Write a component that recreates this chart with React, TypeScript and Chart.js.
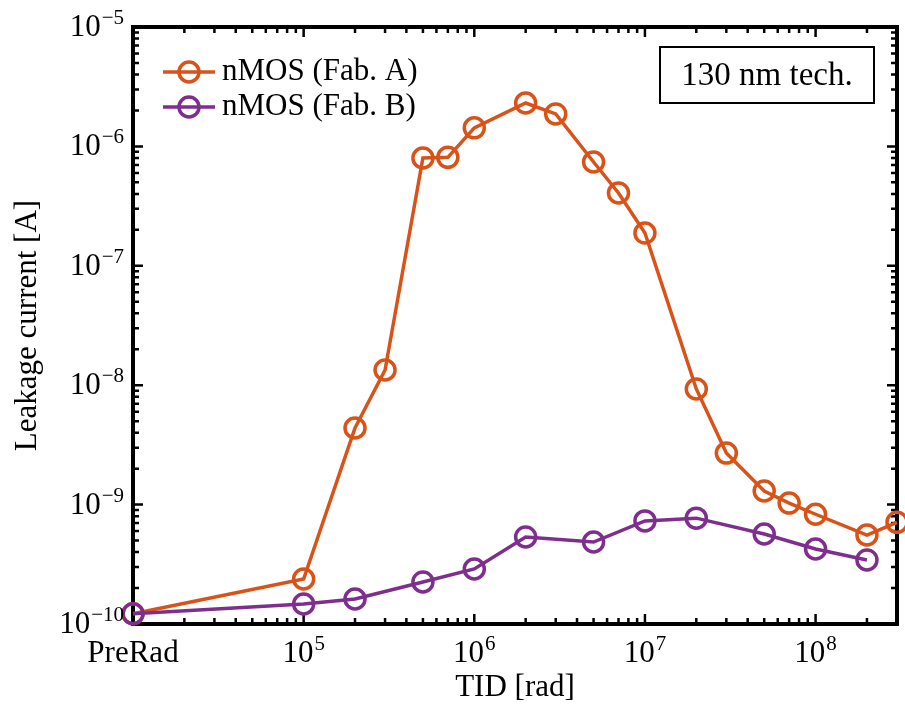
import React, { useEffect, useRef } from 'react';
import { Chart, registerables } from 'chart.js';
Chart.register(...registerables);

// ---- data ----
const doseFabA = [1e4, 1e5, 2e5, 3e5, 5e5, 7e5, 1e6, 2e6, 3e6, 5e6, 7e6, 1e7, 2e7, 3e7, 5e7, 7e7, 1e8, 2e8, 3e8];
const leakFabA = [1.22e-10, 2.38e-10, 4.38e-9, 1.34e-8, 8.0e-7, 8.1e-7, 1.43e-6, 2.31e-6, 1.87e-6, 7.4e-7, 4.07e-7, 1.88e-7, 9.3e-9, 2.7e-9, 1.3e-9, 1.03e-9, 8.3e-10, 5.56e-10, 7.1e-10];
const doseFabB = [1e4, 1e5, 2e5, 5e5, 1e6, 2e6, 5e6, 1e7, 2e7, 5e7, 1e8, 2e8];
const leakFabB = [1.22e-10, 1.47e-10, 1.62e-10, 2.25e-10, 2.89e-10, 5.36e-10, 4.86e-10, 7.3e-10, 7.7e-10, 5.67e-10, 4.25e-10, 3.44e-10];

const seriesNames = ['nMOS (Fab. A)', 'nMOS (Fab. B)'];
const seriesColors = ['#D95319', '#7E2F8E'];

const xTickValues = [1e4, 1e5, 1e6, 1e7, 1e8];
const xTickBase = ['PreRad', '10', '10', '10', '10'];
const xTickExp = ['', '5', '6', '7', '8'];
const yTickValues = [1e-10, 1e-9, 1e-8, 1e-7, 1e-6, 1e-5];
const yTickExp = ['\u221210', '\u22129', '\u22128', '\u22127', '\u22126', '\u22125'];

const xTitle = 'TID [rad]';
const yTitle = 'Leakage current [A]';
const annotationText = '130 nm tech.';

const FONT = '"Liberation Serif", "DejaVu Serif", serif';

function drawSupLabel(ctx: CanvasRenderingContext2D, base: string, exp: string, x: number, y: number, align: 'center' | 'right') {
  const baseFont = `31px ${FONT}`;
  const expFont = `21px ${FONT}`;
  ctx.font = baseFont;
  const wb = ctx.measureText(base).width;
  ctx.font = expFont;
  const we = exp ? ctx.measureText(exp).width + 1 : 0;
  const total = wb + we;
  const x0 = align === 'center' ? x - total / 2 : x - total;
  ctx.textAlign = 'left';
  ctx.textBaseline = 'alphabetic';
  ctx.font = baseFont;
  ctx.fillText(base, x0, y);
  if (exp) {
    ctx.font = expFont;
    ctx.fillText(exp, x0 + wb + 1, y - 12);
  }
}

function logTicks(min: number, max: number): { v: number; major: boolean }[] {
  const out: { v: number; major: boolean }[] = [];
  const d0 = Math.floor(Math.log10(min));
  const d1 = Math.ceil(Math.log10(max));
  for (let d = d0; d <= d1; d++) {
    for (let m = 1; m <= 9; m++) {
      const v = m * Math.pow(10, d);
      if (v >= min * 0.999 && v <= max * 1.001) out.push({ v, major: m === 1 });
    }
  }
  return out;
}

const framePlugin = {
  id: 'matlabFrame',
  beforeDatasetsDraw(chart: any) {
    const { ctx, chartArea: a, scales } = chart;
    const xs = scales.x, ys = scales.y;
    ctx.save();
    ctx.strokeStyle = '#000';
    ctx.lineWidth = 2.5;
    ctx.lineCap = 'butt';
    for (const t of logTicks(xs.min, xs.max)) {
      const px = xs.getPixelForValue(t.v);
      const len = t.major ? 10 : 6;
      ctx.beginPath();
      ctx.moveTo(px, a.bottom); ctx.lineTo(px, a.bottom - len);
      ctx.moveTo(px, a.top); ctx.lineTo(px, a.top + len);
      ctx.stroke();
    }
    for (const t of logTicks(ys.min, ys.max)) {
      const py = ys.getPixelForValue(t.v);
      const len = t.major ? 10 : 6;
      ctx.beginPath();
      ctx.moveTo(a.left, py); ctx.lineTo(a.left + len, py);
      ctx.moveTo(a.right, py); ctx.lineTo(a.right - len, py);
      ctx.stroke();
    }
    ctx.lineWidth = 4;
    ctx.strokeRect(a.left, a.top, a.right - a.left, a.bottom - a.top);
    ctx.restore();
  },
  afterDraw(chart: any) {
    const { ctx, chartArea: a, scales } = chart;
    const xs = scales.x, ys = scales.y;
    ctx.save();
    ctx.fillStyle = '#000';
    // x tick labels
    xTickValues.forEach((v, i) => {
      const px = xs.getPixelForValue(v);
      drawSupLabel(ctx, xTickBase[i], xTickExp[i], px, a.bottom + 38, 'center');
    });
    // y tick labels
    yTickValues.forEach((v, i) => {
      const py = ys.getPixelForValue(v);
      drawSupLabel(ctx, '10', yTickExp[i], a.left - 9, py + 9, 'right');
    });
    // axis titles
    ctx.font = `31px ${FONT}`;
    ctx.textAlign = 'center';
    ctx.textBaseline = 'middle';
    ctx.fillText(xTitle, (a.left + a.right) / 2, 688);
    ctx.save();
    ctx.translate(28, (a.top + a.bottom) / 2);
    ctx.rotate(-Math.PI / 2);
    ctx.fillText(yTitle, 0, 0);
    ctx.restore();

    // legend
    const legY = [72, 107];
    seriesNames.forEach((name, i) => {
      const y = legY[i];
      ctx.strokeStyle = seriesColors[i];
      ctx.lineWidth = 3.5;
      ctx.beginPath();
      ctx.moveTo(163, y); ctx.lineTo(215, y);
      ctx.stroke();
      ctx.beginPath();
      ctx.arc(189, y, 10, 0, Math.PI * 2);
      ctx.stroke();
      ctx.fillStyle = '#000';
      ctx.font = `31px ${FONT}`;
      ctx.textAlign = 'left';
      ctx.textBaseline = 'middle';
      ctx.fillText(name, 222, y);
    });

    // annotation box
    ctx.fillStyle = '#fff';
    ctx.fillRect(660, 47, 214, 56);
    ctx.strokeStyle = '#000';
    ctx.lineWidth = 2;
    ctx.strokeRect(660, 47, 214, 56);
    ctx.fillStyle = '#000';
    ctx.font = `33px ${FONT}`;
    ctx.textAlign = 'center';
    ctx.textBaseline = 'middle';
    ctx.fillText(annotationText, 767, 76);
    ctx.restore();
  },
};

export default function App() {
  const ref = useRef<HTMLCanvasElement>(null);
  useEffect(() => {
    if (!ref.current) return;
    const mk = (xs: number[], ys: number[]) => xs.map((x, i) => ({ x, y: ys[i] }));
    const chart = new Chart(ref.current, {
      type: 'line',
      data: {
        datasets: [
          {
            label: seriesNames[0],
            data: mk(doseFabA, leakFabA),
            borderColor: seriesColors[0],
            backgroundColor: 'rgba(0,0,0,0)',
            pointBorderColor: seriesColors[0],
            pointBackgroundColor: 'rgba(0,0,0,0)',
            borderWidth: 3.5,
            pointBorderWidth: 3.5,
            pointRadius: 10,
            tension: 0,
            clip: false as any,
            order: 1,
          },
          {
            label: seriesNames[1],
            data: mk(doseFabB, leakFabB),
            borderColor: seriesColors[1],
            backgroundColor: 'rgba(0,0,0,0)',
            pointBorderColor: seriesColors[1],
            pointBackgroundColor: 'rgba(0,0,0,0)',
            borderWidth: 3.5,
            pointBorderWidth: 3.5,
            pointRadius: 10,
            tension: 0,
            clip: false as any,
            order: 0,
          },
        ],
      },
      options: {
        animation: false,
        responsive: false,
        devicePixelRatio: 1,
        layout: { autoPadding: false, padding: { top: 27, right: 8, left: 0, bottom: 0 } },
        plugins: { legend: { display: false }, tooltip: { enabled: false } },
        scales: {
          x: {
            type: 'logarithmic',
            min: 1e4,
            max: 3e8,
            grid: { display: false },
            border: { display: false },
            ticks: { display: false },
            afterFit: (s: any) => { s.height = 90; },
          },
          y: {
            type: 'logarithmic',
            min: 1e-10,
            max: 1e-5,
            grid: { display: false },
            border: { display: false },
            ticks: { display: false },
            afterFit: (s: any) => { s.width = 133; },
          },
        },
      },
      plugins: [framePlugin],
    });
    return () => chart.destroy();
  }, []);
  return (
    <div style={{ position: 'absolute', left: 0, top: 0, width: 905, height: 714, background: '#fff' }}>
      <canvas ref={ref} width={905} height={714} style={{ display: 'block' }} />
    </div>
  );
}
